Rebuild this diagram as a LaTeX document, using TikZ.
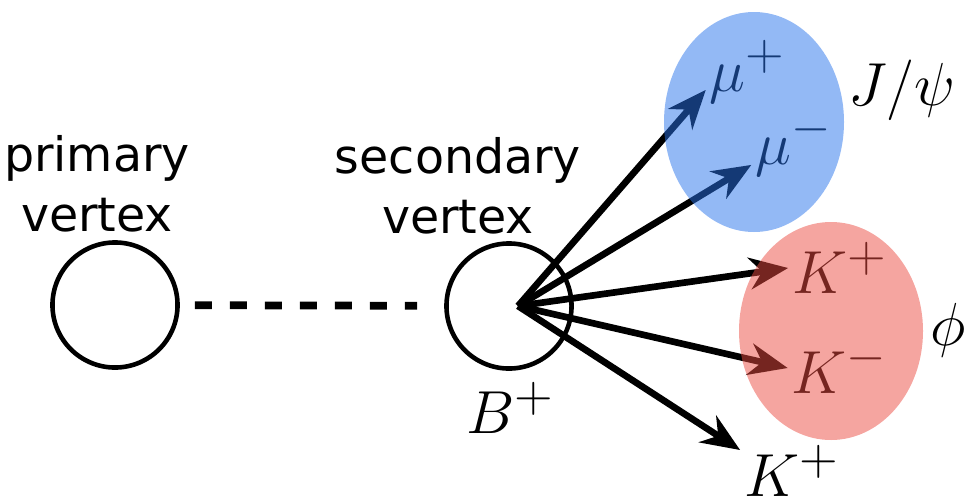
\documentclass[tikz,border=0pt]{standalone}
\usepackage{amsmath,amssymb}
\usepackage{fontspec}
\setsansfont{DejaVu Sans}
\usepackage{tikz}
\usetikzlibrary{arrows.meta}

\definecolor{jpsiblue}{RGB}{40,115,235}
\definecolor{phired}{RGB}{235,75,65}

\begin{document}
\begin{tikzpicture}[
    x=0.01cm, y=-0.01cm,
    vertex/.style={circle, draw, line width=1.3pt, minimum size=1.25cm, inner sep=0pt},
    word/.style={align=center, inner sep=1pt, font=\sffamily\fontsize{13.5}{17}\selectfont},
    particle/.style={inner sep=1pt, font=\fontsize{19}{22}\selectfont},
    track/.style={draw, line width=1.9pt, -{Stealth[length=11pt, width=9pt]}},
    flight/.style={draw, line width=2.2pt, dash pattern=on 0.17cm off 0.18cm},
    blob/.style={fill=#1, opacity=0.5}
]
    \useasboundingbox (0,0) rectangle (973,503);

    % Nodes
    \node [vertex] (pv) at (115,305) {};
    \node [vertex] (sv) at (509,306) {};
    \coordinate (decay) at (518,306);
    \node [word] (pvlabel) at (97,184) {primary\\vertex};
    \node [word] (svlabel) at (458,186) {secondary\\vertex};
    \node [particle] (bplus) at (511,408) {$B^+$};
    \node [particle] (mup) at (748,72) {$\mu^+$};
    \node [particle] (mum) at (794,145) {$\mu^-$};
    \node [particle] (jpsi) at (902,90) {$J/\psi$};
    \node [particle] (kp) at (840,268) {$K^+$};
    \node [particle] (km) at (840,368) {$K^-$};
    \node [particle] (phi) at (948,330) {$\phi$};
    \node [particle] (kb) at (792,471) {$K^+$};

    % Paths
    \path [flight, shorten <=0.15cm, shorten >=0.27cm] (pv) -- (sv);
    \path [track] (decay) -- (mup.203);
    \path [track] (decay) -- (mum.205);
    \path [track] (decay) -- (kp.west);
    \path [track] (decay) -- (km.west);
    \path [track] (decay) -- (kb.158);

    % Resonances
    \fill [blob=jpsiblue] (754,122) ellipse [x radius=90, y radius=110];
    \fill [blob=phired] (831,331) ellipse [x radius=92, y radius=109];
\end{tikzpicture}
\end{document}
